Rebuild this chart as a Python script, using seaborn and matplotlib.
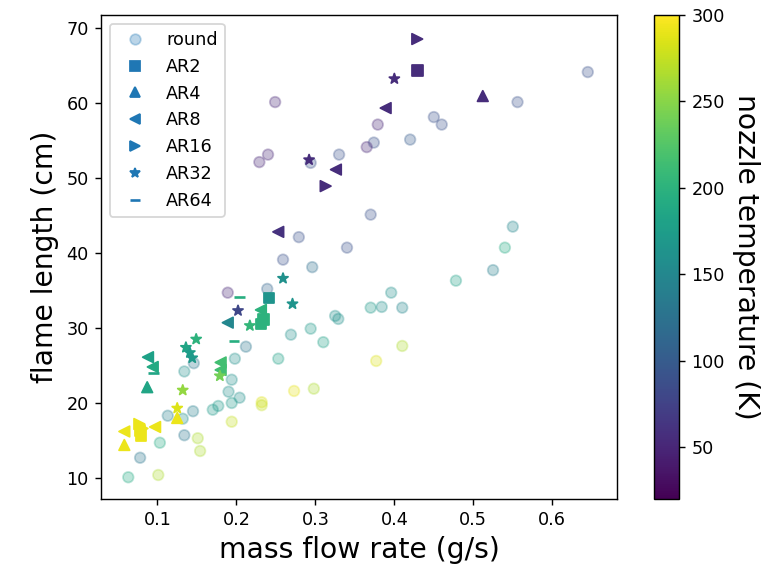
import numpy as np
import pandas as pd
import matplotlib
matplotlib.use('Agg')
import matplotlib.pyplot as plt
import seaborn as sns
from matplotlib.lines import Line2D

# round nozzle
round_x = [0.645, 0.556, 0.249, 0.450, 0.460, 0.420, 0.379, 0.374, 0.365, 0.240,
           0.229, 0.294, 0.330, 0.370, 0.279, 0.340, 0.259, 0.296, 0.189, 0.239,
           0.550, 0.540, 0.525, 0.478, 0.396, 0.370, 0.384, 0.410, 0.325, 0.329,
           0.294, 0.269, 0.310, 0.212, 0.198, 0.253, 0.146, 0.134, 0.194, 0.190,
           0.204, 0.194, 0.177, 0.170, 0.145, 0.113, 0.132, 0.134, 0.103, 0.078,
           0.063, 0.101, 0.151, 0.154, 0.194, 0.232, 0.232, 0.273, 0.298, 0.410,
           0.377]
round_y = [64.1, 60.1, 60.1, 58.1, 57.1, 55.1, 57.1, 54.7, 54.1, 53.1,
           52.1, 52.0, 53.1, 45.1, 42.1, 40.7, 39.1, 38.1, 34.7, 35.2,
           43.5, 40.7, 37.7, 36.3, 34.7, 32.7, 32.8, 32.7, 31.6, 31.2,
           29.9, 29.1, 28.1, 27.5, 25.9, 25.9, 25.3, 24.2, 23.1, 21.5,
           20.7, 20.0, 19.6, 19.1, 18.9, 18.3, 17.9, 15.7, 14.7, 12.7,
           10.1, 10.4, 15.3, 13.6, 17.5, 20.1, 19.7, 21.6, 21.9, 27.6,
           25.6]
round_T = [90, 90, 50, 90, 90, 100, 50, 90, 50, 50,
           50, 90, 90, 90, 90, 90, 90, 120, 50, 110,
           150, 190, 140, 180, 160, 170, 160, 150, 160, 160,
           170, 160, 180, 130, 160, 180, 130, 160, 160, 160,
           160, 170, 170, 170, 140, 140, 160, 130, 190, 130,
           190, 265, 265, 265, 275, 285, 275, 290, 265, 265,
           285]

ar2_x = [0.429, 0.241, 0.234, 0.231, 0.078, 0.079]
ar2_y = [64.3, 34.0, 31.1, 30.5, 16.3, 15.7]
ar2_T = [55, 165, 200, 200, 292, 292]

ar4_x = [0.512, 0.087, 0.058, 0.125]
ar4_y = [60.9, 22.1, 14.4, 18.0]
ar4_T = [55, 185, 292, 292]

ar8_x = [0.389, 0.326, 0.253, 0.189, 0.231, 0.088, 0.094, 0.180, 0.180, 0.058, 0.097]
ar8_y = [59.3, 51.1, 42.8, 30.7, 32.4, 26.1, 24.8, 25.4, 24.4, 16.2, 16.8]
ar8_T = [55, 55, 60, 150, 200, 180, 190, 215, 215, 292, 292]

ar16_x = [0.429, 0.313, 0.077, 0.081]
ar16_y = [68.5, 48.9, 17.2, 16.6]
ar16_T = [55, 55, 292, 292]

ar32_x = [0.400, 0.292, 0.202, 0.259, 0.271, 0.217, 0.149, 0.136, 0.141, 0.144,
          0.132, 0.179, 0.125]
ar32_y = [63.2, 52.4, 32.3, 36.6, 33.2, 30.3, 28.5, 27.4, 26.7, 26.0,
          21.7, 23.6, 19.3]
ar32_T = [55, 55, 80, 160, 165, 205, 200, 185, 175, 170,
          255, 240, 285]

ar64_x = [0.204, 0.197, 0.095]
ar64_y = [34.1, 28.3, 24.0]
ar64_T = [195, 195, 185]

groups = [
    ('round', 'o', round_x, round_y, round_T),
    ('AR2', 's', ar2_x, ar2_y, ar2_T),
    ('AR4', '^', ar4_x, ar4_y, ar4_T),
    ('AR8', '<', ar8_x, ar8_y, ar8_T),
    ('AR16', '>', ar16_x, ar16_y, ar16_T),
    ('AR32', '*', ar32_x, ar32_y, ar32_T),
    ('AR64', '_', ar64_x, ar64_y, ar64_T),
]

tmin, tmax = 20, 300

fig = plt.figure(figsize=(773/127, 569/127), dpi=127)
ax = fig.add_axes([0.1307, 0.123, 0.6675, 0.8506])
cax = fig.add_axes([0.846, 0.123, 0.0323, 0.8506])

handles = []
for name, m, gx, gy, gT in groups:
    df = pd.DataFrame({'x': gx, 'y': gy, 'T': gT})
    alpha = 0.3 if name == 'round' else 1.0
    lw = 1.5 if m == '_' else 1.0
    sns.scatterplot(data=df, x='x', y='y', hue='T', palette='viridis',
                    hue_norm=(tmin, tmax), marker=m, s=36, alpha=alpha,
                    edgecolor='face', linewidth=lw, legend=False, ax=ax)
    handles.append(Line2D([], [], marker=m, color='C0', linestyle='None',
                          markersize=6, markeredgewidth=1.5 if m == '_' else 1.0,
                          alpha=alpha, label=name))

ax.set_xlim(0.0285, 0.682)
ax.set_ylim(7.2, 71.7)
ax.set_xlabel('mass flow rate (g/s)', fontsize=16)
ax.set_ylabel('flame length (cm)', fontsize=16)
ax.legend(handles=handles, loc='upper left')

sm = plt.cm.ScalarMappable(norm=plt.Normalize(tmin, tmax), cmap='viridis')
cbar = fig.colorbar(sm, cax=cax)
cbar.set_label('nozzle temperature (K)', rotation=270, fontsize=16, labelpad=20)

fig.savefig('out.png', dpi=127)
